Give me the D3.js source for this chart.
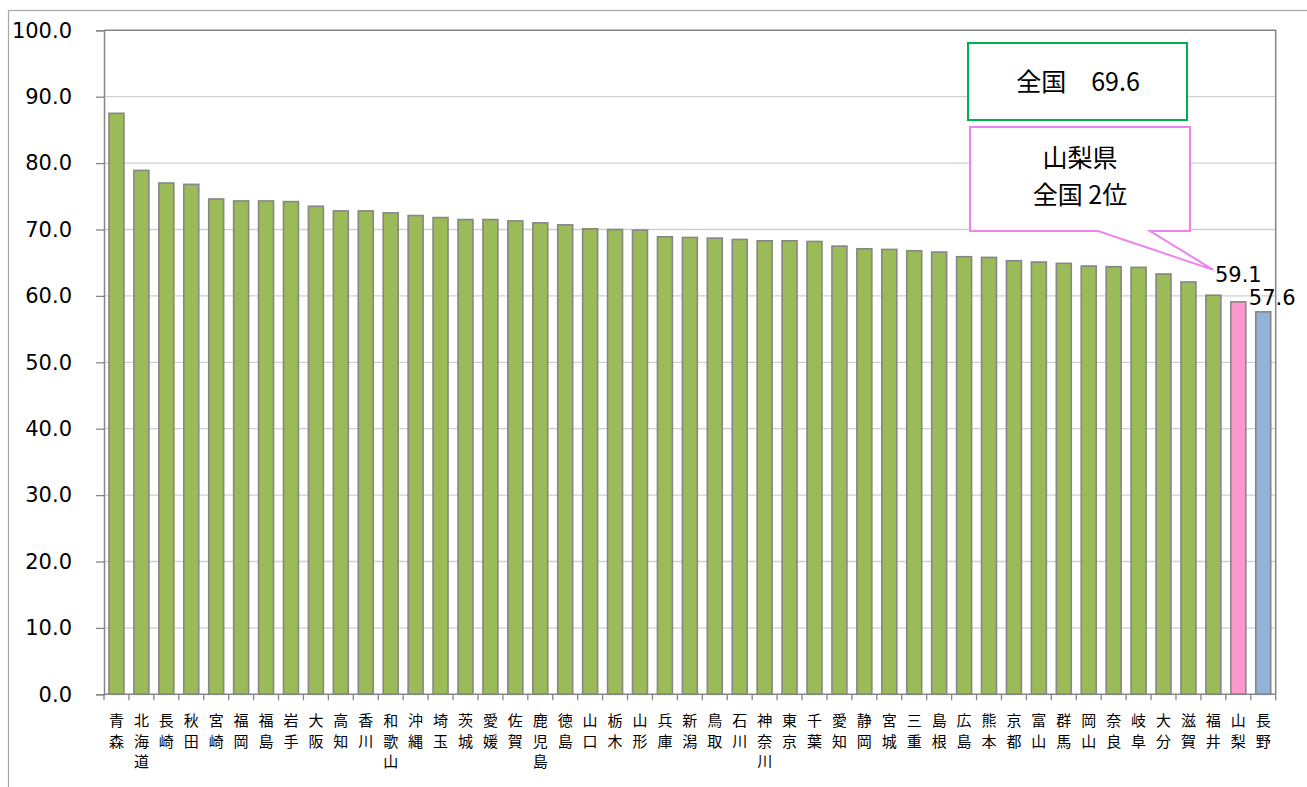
<!DOCTYPE html>
<html>
<head>
<meta charset="utf-8">
<script src="https://cdn.jsdelivr.net/npm/d3@7"></script>
<style>
  body { margin: 0; background: #fff; }
  svg { display: block; }
</style>
</head>
<body>
<div id="chart"></div>
<script>
(function(d3) {
    'use strict';

    // Data
    var prefectures = ['青森', '北海道', '長崎', '秋田', '宮崎', '福岡', '福島', '岩手', '大阪', '高知',
        '香川', '和歌山', '沖縄', '埼玉', '茨城', '愛媛', '佐賀', '鹿児島', '徳島', '山口',
        '栃木', '山形', '兵庫', '新潟', '鳥取', '石川', '神奈川', '東京', '千葉', '愛知',
        '静岡', '宮城', '三重', '島根', '広島', '熊本', '京都', '富山', '群馬', '岡山',
        '奈良', '岐阜', '大分', '滋賀', '福井', '山梨', '長野'];
    var values = [87.5, 78.9, 77.0, 76.8, 74.6, 74.3, 74.3, 74.2, 73.5, 72.8,
        72.8, 72.5, 72.1, 71.8, 71.5, 71.5, 71.3, 71.0, 70.7, 70.1,
        70.0, 69.9, 68.9, 68.8, 68.7, 68.5, 68.3, 68.3, 68.2, 67.5,
        67.1, 67.0, 66.8, 66.6, 65.9, 65.8, 65.3, 65.1, 64.9, 64.5,
        64.4, 64.3, 63.3, 62.1, 60.1, 59.1, 57.6];
    var yTicks = [0, 10, 20, 30, 40, 50, 60, 70, 80, 90, 100];
    var labelled = ['山梨', '長野'];
    var nationalText = '全国　69.6';
    var calloutLines = ['山梨県', '全国 2位'];

    // Size
    var width = 1307;
    var height = 787;
    var plot = { left: 104, top: 30.3, right: 1275.7, bottom: 694.3 };

    var numFont = '"DejaVu Sans", Verdana, sans-serif';
    var cjkFont = '"Noto Sans CJK JP", "DejaVu Sans", sans-serif';

    var svg = d3.select('#chart')
        .append('svg')
        .attr('width', width)
        .attr('height', height);

    svg.append('rect')
        .attr('width', width)
        .attr('height', height)
        .attr('fill', '#fff');

    // Chart outer frame (runs off the right / bottom edge)
    svg.append('rect')
        .attr('x', 8.5)
        .attr('y', 10.5)
        .attr('width', 1400)
        .attr('height', 900)
        .attr('fill', 'none')
        .attr('stroke', '#a6a6a6')
        .attr('stroke-width', 1.2);

    var x = d3.scaleBand()
        .domain(prefectures)
        .range([plot.left, plot.right])
        .paddingInner(0.4)
        .paddingOuter(0.2);

    var y = d3.scaleLinear()
        .domain([0, 100])
        .range([plot.bottom, plot.top]);

    // Gridlines
    svg.append('g')
        .selectAll('line')
        .data(yTicks.filter(function(d) { return d > 0 && d < 100; }))
        .enter()
        .append('line')
        .attr('x1', plot.left)
        .attr('x2', plot.right)
        .attr('y1', function(d) { return y(d); })
        .attr('y2', function(d) { return y(d); })
        .attr('stroke', '#d0d0d0')
        .attr('stroke-width', 1.3);

    // Plot frame top / right
    svg.append('path')
        .attr('d', 'M' + plot.left + ',' + plot.top + 'H' + plot.right + 'V' + plot.bottom)
        .attr('fill', 'none')
        .attr('stroke', '#868686')
        .attr('stroke-width', 1.5);

    // Bars
    var color = function(name) {
        if (name === '山梨') return '#ff99cc';
        if (name === '長野') return '#95b3d7';
        return '#9bbb59';
    };

    svg.append('g')
        .selectAll('rect')
        .data(prefectures)
        .enter()
        .append('rect')
        .attr('x', function(d) { return x(d); })
        .attr('y', function(d, i) { return y(values[i]); })
        .attr('width', x.bandwidth())
        .attr('height', function(d, i) { return y(0) - y(values[i]); })
        .attr('fill', color)
        .attr('stroke', '#868686')
        .attr('stroke-width', 1.6);

    // Y axis
    var yAxis = svg.append('g')
        .attr('transform', 'translate(' + plot.left + ',0)')
        .call(d3.axisLeft(y)
            .tickValues(yTicks)
            .tickFormat(d3.format('.1f'))
            .tickSize(8)
            .tickPadding(24));
    yAxis.select('.domain').attr('stroke', '#868686').attr('stroke-width', 1.5);
    yAxis.selectAll('.tick line').attr('stroke', '#868686').attr('stroke-width', 1.3);
    yAxis.selectAll('.tick text')
        .attr('font-family', numFont)
        .attr('font-size', 21)
        .attr('fill', '#000');

    // X axis: baseline + ticks at category boundaries
    var step = x.step();
    var edges = d3.range(prefectures.length + 1).map(function(i) {
        return plot.left + i * step;
    });
    var xAxis = svg.append('g');
    xAxis.append('line')
        .attr('x1', plot.left)
        .attr('x2', plot.right)
        .attr('y1', plot.bottom)
        .attr('y2', plot.bottom)
        .attr('stroke', '#868686')
        .attr('stroke-width', 1.5);
    xAxis.selectAll('line.tk')
        .data(edges)
        .enter()
        .append('line')
        .attr('class', 'tk')
        .attr('x1', function(d) { return d; })
        .attr('x2', function(d) { return d; })
        .attr('y1', plot.bottom)
        .attr('y2', plot.bottom + 6)
        .attr('stroke', '#868686')
        .attr('stroke-width', 1.3);

    // Vertical category labels, one character per line
    var lbl = xAxis.selectAll('text')
        .data(prefectures)
        .enter()
        .append('text')
        .attr('font-family', cjkFont)
        .attr('font-size', 15)
        .attr('fill', '#000')
        .attr('text-anchor', 'middle');
    lbl.each(function(d) {
        var t = d3.select(this);
        var cx = x(d) + x.bandwidth() / 2;
        d.split('').forEach(function(ch, j) {
            t.append('tspan')
                .attr('x', cx)
                .attr('y', 726 + j * 20.5)
                .text(ch);
        });
    });

    // Value labels for highlighted bars
    svg.append('g')
        .selectAll('text')
        .data(labelled)
        .enter()
        .append('text')
        .attr('x', function(d, i) {
            return x(d) + x.bandwidth() / 2 + (i === 1 ? 9 : 0);
        })
        .attr('y', function(d) {
            return y(values[prefectures.indexOf(d)]) - (d === '山梨' ? 20 : 7);
        })
        .attr('text-anchor', 'middle')
        .attr('font-family', numFont)
        .attr('font-size', 21)
        .attr('fill', '#000')
        .text(function(d) { return values[prefectures.indexOf(d)].toFixed(1); });

    // National average box
    svg.append('rect')
        .attr('x', 968)
        .attr('y', 43)
        .attr('width', 219)
        .attr('height', 77)
        .attr('fill', '#fff')
        .attr('stroke', '#00b050')
        .attr('stroke-width', 2);
    svg.append('text')
        .attr('x', 1078)
        .attr('y', 82)
        .attr('dy', '0.35em')
        .attr('text-anchor', 'middle')
        .attr('font-family', cjkFont)
        .attr('font-size', 25)
        .attr('fill', '#000')
        .text(nationalText);

    // Yamanashi callout
    var tipX = x('山梨') + x.bandwidth() / 2 - 25;
    var tipY = y(values[prefectures.indexOf('山梨')]) - 32;
    svg.append('path')
        .attr('d', 'M970,127H1190V231H1150L' + tipX + ',' + tipY + 'L1098,231H970Z')
        .attr('fill', '#fff')
        .attr('stroke', '#ee82ee')
        .attr('stroke-width', 2);
    svg.append('g')
        .selectAll('text')
        .data(calloutLines)
        .enter()
        .append('text')
        .attr('x', 1080)
        .attr('y', function(d, i) { return 158 + i * 37; })
        .attr('dy', '0.35em')
        .attr('text-anchor', 'middle')
        .attr('font-family', cjkFont)
        .attr('font-size', 25)
        .attr('fill', '#000')
        .text(function(d) { return d; });

})(window.d3);
</script>
</body>
</html>
